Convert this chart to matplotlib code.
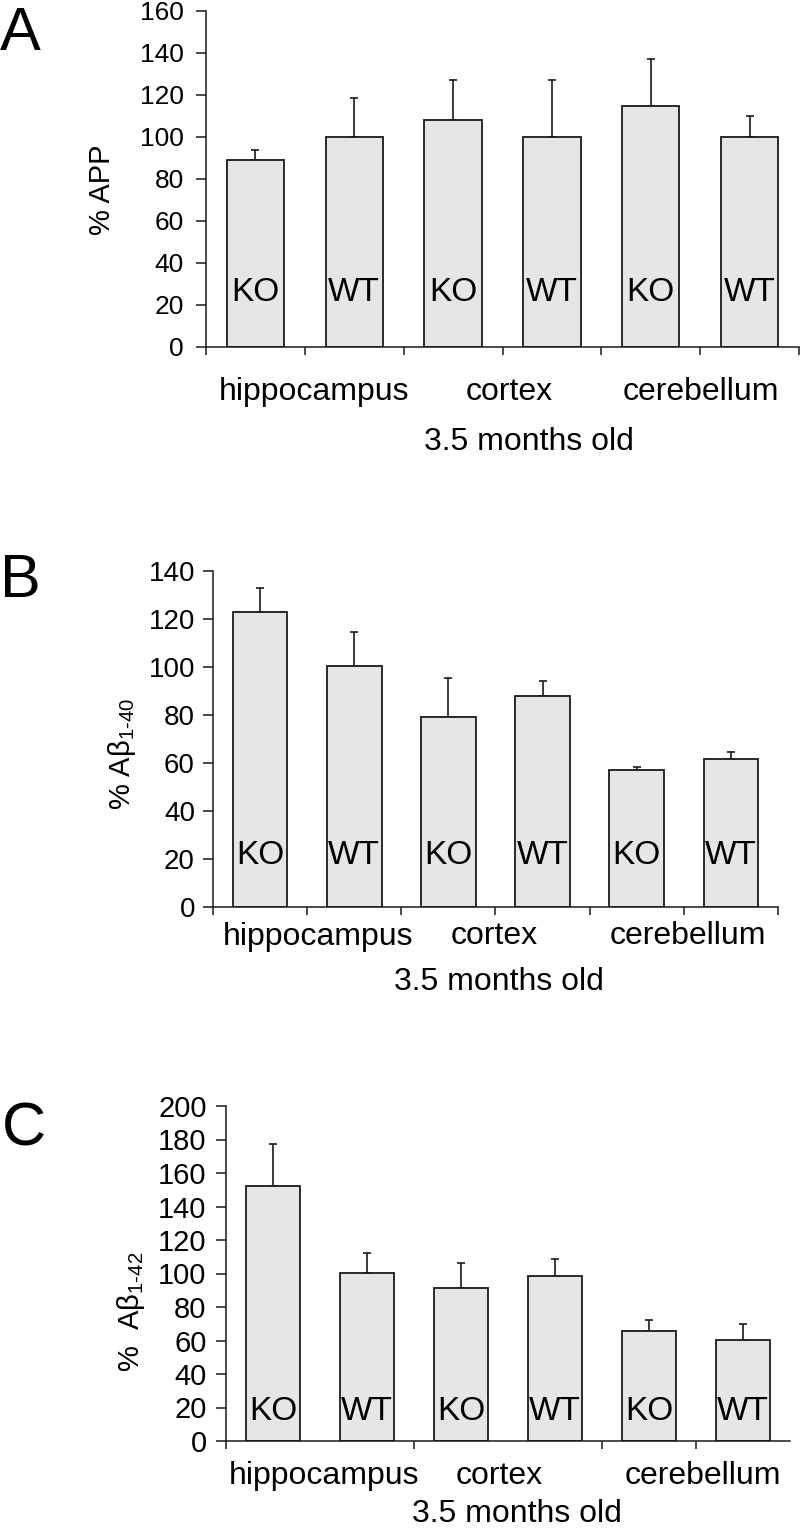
import numpy as np
import matplotlib
matplotlib.use('Agg')
import matplotlib.pyplot as plt

plt.rcParams['font.family'] = ['Liberation Sans', 'DejaVu Sans']
plt.rcParams['mathtext.fontset'] = 'custom'
plt.rcParams['mathtext.rm'] = 'Liberation Sans'
plt.rcParams['mathtext.it'] = 'Liberation Sans:italic'

# data
regions = ['hippocampus', 'cortex', 'cerebellum']
genotypes = ['KO', 'WT', 'KO', 'WT', 'KO', 'WT']
age_label = '3.5 months old'

app_mean = [89, 100, 108, 100, 115, 100]
app_err = [5, 18.5, 19, 27, 22, 10]

ab40_mean = [123, 100.5, 79, 88, 57, 61.5]
ab40_err = [10, 14, 16.5, 6, 1.5, 3]

ab42_mean = [152.5, 100.5, 91.5, 98.5, 65.5, 60.5]
ab42_err = [25, 12, 15, 10, 6.5, 9.5]

W, H = 800, 1529
fig = plt.figure(figsize=(W / 100, H / 100), dpi=100)


def px_rect(left, right, top, bottom):
    return [left / W, (H - bottom) / H, (right - left) / W, (bottom - top) / H]


def panel(rect, means, errs, ymax, tick_fs, tick_pad, xticks, ko_off, cat_off, age_off,
          cat_pos, age_pos):
    ax = fig.add_axes(rect)
    x = np.arange(len(means))
    ax.bar(x, means, width=0.58, color='#e6e6e6', edgecolor='#1a1a1a', linewidth=1.3, zorder=2)
    ax.errorbar(x, means, yerr=[np.zeros(len(errs)), errs], fmt='none', ecolor='#1a1a1a',
                elinewidth=1.2, capsize=3, capthick=1.2, zorder=1)
    ax.set_xlim(-0.5, 5.5)
    ax.set_ylim(0, ymax)
    ax.set_yticks(np.arange(0, ymax + 1, 20))
    ax.set_xticks(xticks)
    ax.set_xticklabels([])
    ax.spines['top'].set_visible(False)
    ax.spines['right'].set_visible(False)
    for s in ['left', 'bottom']:
        ax.spines[s].set_linewidth(1.1)
        ax.spines[s].set_color('#1a1a1a')
    ax.tick_params(axis='y', length=7, width=1.1, labelsize=tick_fs, pad=tick_pad, colors='#1a1a1a',
                   labelcolor='black')
    ax.tick_params(axis='x', length=5.5, width=1.1, colors='#1a1a1a')
    for i, g in enumerate(genotypes):
        ax.annotate(g, xy=(i, 0), xycoords=('data', 'axes fraction'), xytext=(0, ko_off),
                    textcoords='offset points', ha='center', va='baseline', fontsize=24)
    for p, r in zip(cat_pos, regions):
        ax.annotate(r, xy=(p, 0), xycoords=('data', 'axes fraction'), xytext=(0, -cat_off),
                    textcoords='offset points', ha='center', va='baseline', fontsize=23)
    ax.annotate(age_label, xy=(age_pos, 0), xycoords=('data', 'axes fraction'),
                xytext=(0, -age_off), textcoords='offset points', ha='center', va='baseline',
                fontsize=23)
    return ax


all_ticks = [-0.5, 0.5, 1.5, 2.5, 3.5, 4.5, 5.5]

# A
panel(px_rect(206, 799, 11, 347), app_mean, app_err, 160, 19, 9, all_ticks,
      33, 38, 74, [0.59, 2.57, 4.51], 2.77)
# B
panel(px_rect(213, 778, 571, 907), ab40_mean, ab40_err, 140, 20, 6, all_ticks,
      31, 27, 60, [0.62, 2.49, 4.54], 2.54)
# C
panel(px_rect(226, 790, 1106, 1441), ab42_mean, ab42_err, 200, 21, 7, [-0.5, 1.5, 3.5, 4.5],
      15, 31, 58, [0.54, 2.41, 4.57], 2.6)

# y labels
fig.text(102 / W, 1 - 190 / H, '% APP', rotation=90, ha='center', va='center', fontsize=21)
fig.text(122 / W, 1 - 754 / H, '% A\u03b2$_{\\mathrm{1}\\text{-}\\mathrm{40}}$', rotation=90,
         ha='center', va='center', fontsize=21)
fig.text(131 / W, 1 - 1312 / H, '%  A\u03b2$_{\\mathrm{1}\\text{-}\\mathrm{42}}$', rotation=90,
         ha='center', va='center', fontsize=21)

# panel letters
fig.text(0 / W, 1 - 50 / H, 'A', ha='left', va='baseline', fontsize=44)
fig.text(0 / W, 1 - 597 / H, 'B', ha='left', va='baseline', fontsize=44)
fig.text(2 / W, 1 - 1146 / H, 'C', ha='left', va='baseline', fontsize=44)

fig.savefig('out.png', dpi=100, facecolor='white')
